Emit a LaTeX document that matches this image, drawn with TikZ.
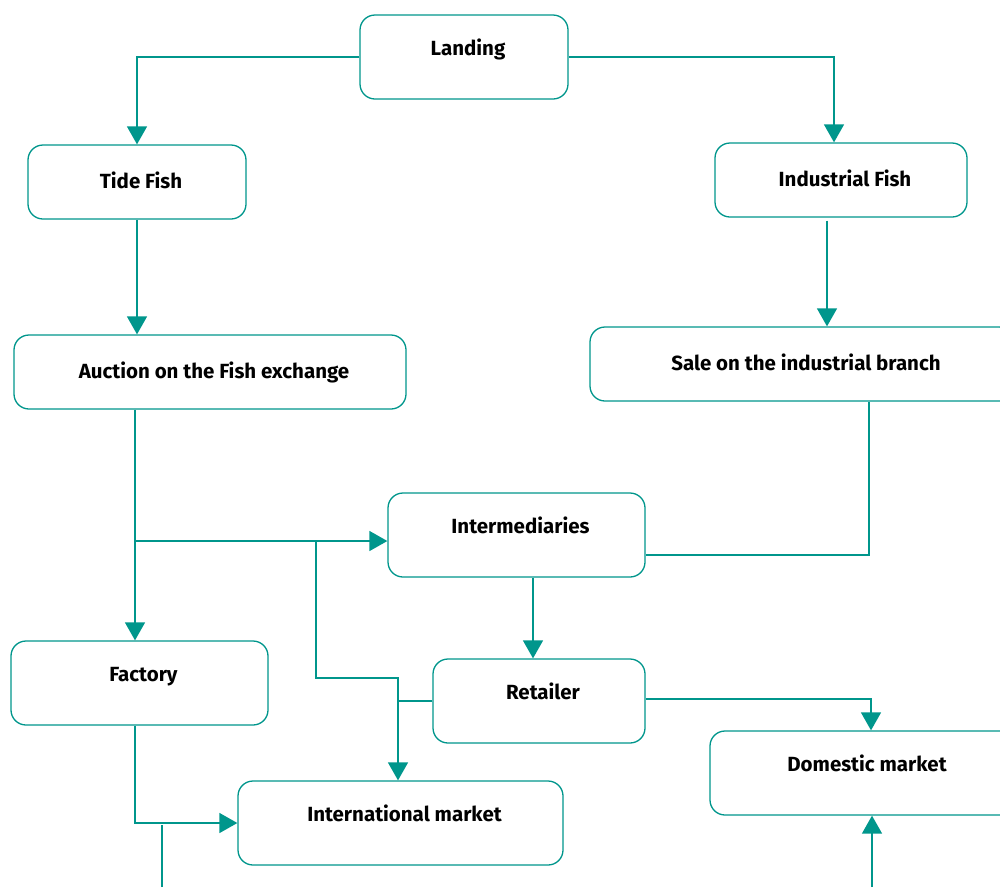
\documentclass[tikz,border=0pt]{standalone}
\usepackage{fontspec}
\setmainfont{Fira Sans}
\usetikzlibrary{arrows.meta}
\definecolor{fishteal}{RGB}{0,150,140}

\begin{document}
\begin{tikzpicture}[x=1pt,y=-1pt,
    box/.style={draw=fishteal,line width=1.3pt,rounded corners=15pt,fill=white,
      font=\fontsize{20.5}{22}\selectfont\bfseries,text height=15pt,text depth=3pt,minimum height=74pt,
      execute at begin node=\hspace*{8pt}},
    tallbox/.style={box,text depth=19pt,minimum height=84pt},
    link/.style={draw=fishteal,line width=1.4pt},
    arr/.style={link,-{Triangle[length=18pt,width=20pt]}}]
  \useasboundingbox (0,0) rectangle (1000,887);
  \clip (0,0) rectangle (1000,887);

  \node[tallbox,minimum width=208pt] (landing) at (464,57) {Landing};
  \node[box,minimum width=218pt] (tide) at (137,182) {Tide Fish};
  \node[box,minimum width=252pt] (indfish) at (841,180) {Industrial Fish};
  \node[box,minimum width=392pt] (auction) at (210,372) {Auction on the Fish exchange};
  \node[box,minimum width=424pt] (sale) at (802,364) {Sale on the industrial branch};
  \node[tallbox,minimum width=257pt] (inter) at (516.5,535) {Intermediaries};
  \node[tallbox,minimum width=257pt] (factory) at (139.5,683) {Factory};
  \node[tallbox,minimum width=212pt] (retailer) at (539,701) {Retailer};
  \node[tallbox,minimum width=306pt] (domestic) at (863,773) {Domestic market};
  \node[tallbox,minimum width=325pt] (intl) at (400.5,823) {International market};

  \coordinate (split) at (135,541);
  \coordinate (drop) at (316,541);
  \coordinate (bend) at (398,678);
  \coordinate (lowA) at (162,887);
  \coordinate (lowAtop) at (162,825);
  \coordinate (lowB) at (872,887);

  \draw[arr] (landing.west) -| (tide.north);
  \draw[arr] (landing.east) -| ([xshift=-7pt]indfish.north);
  \draw[arr] (tide.south) -- (tide.south |- auction.north);
  \draw[arr] ([xshift=-14pt,yshift=-3pt]indfish.south) -- ([xshift=-14pt]indfish.south |- sale.north);
  \draw[arr] (auction.south -| split) -- (factory.north -| split);
  \draw[arr] (split) -- (split -| inter.west);
  \draw[arr] (drop) |- (bend) -- (bend |- intl.north);
  \draw[link] (retailer.west) -- (retailer.west -| bend);
  \draw[arr] ([xshift=16.5pt]inter.south) -- ([xshift=16.5pt]inter.south |- retailer.north);
  \draw[link] ([xshift=67pt]sale.south) |- ([yshift=-20pt]inter.east);
  \draw[arr] ([yshift=2pt]retailer.east) -| ([xshift=8pt]domestic.north);
  \draw[arr] (factory.south -| split) |- (intl.west);
  \draw[link] (lowA) -- (lowAtop);
  \draw[arr] (lowB) -- (lowB |- domestic.south);
\end{tikzpicture}
\end{document}
